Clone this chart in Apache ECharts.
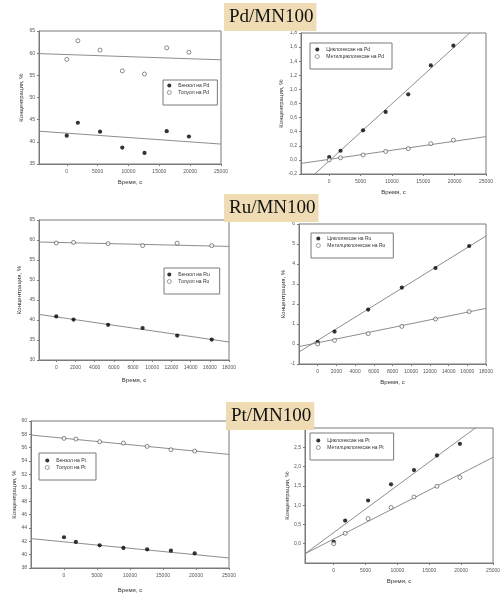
<!DOCTYPE html>
<html><head><meta charset="utf-8">
<script src="https://cdn.jsdelivr.net/npm/echarts@6/dist/echarts.min.js"></script>
<style>html,body{margin:0;padding:0;background:#fff}#c{width:503px;height:594px}</style>
</head><body><div id="c"></div>
<script>
// ---------- DATA ----------
const timesPd = [0, 1800, 5400, 9000, 12600, 16200, 19800];
const timesRu = [0, 1800, 5400, 9000, 12600, 16200];
const timesPt = [0, 1800, 5400, 9000, 12600, 16200, 19800];

const benzenePd = [41.4, 44.3, 42.3, 38.7, 37.5, 42.4, 41.2];
const toluenePd = [58.6, 62.8, 60.7, 56.0, 55.3, 61.2, 60.2];
const cyclohexanePd = [0.04, 0.13, 0.42, 0.68, 0.93, 1.34, 1.62];
const methylcyclohexanePd = [0.0, 0.03, 0.07, 0.12, 0.16, 0.23, 0.28];

const benzeneRu = [40.9, 40.1, 38.8, 38.0, 36.1, 35.1];
const tolueneRu = [59.25, 59.4, 59.1, 58.6, 59.2, 58.6];
const cyclohexaneRu = [0.1, 0.62, 1.72, 2.82, 3.8, 4.9];
const methylcyclohexaneRu = [0.0, 0.18, 0.52, 0.88, 1.25, 1.62];

const benzenePt = [42.6, 41.9, 41.4, 41.0, 40.8, 40.6, 40.2];
const toluenePt = [57.4, 57.3, 56.9, 56.7, 56.2, 55.7, 55.5];
const cyclohexanePt = [0.05, 0.6, 1.12, 1.54, 1.91, 2.29, 2.59];
const methylcyclohexanePt = [0.0, 0.27, 0.65, 0.94, 1.21, 1.49, 1.72];

// fitted lines (end points)
const fitBenzenePd = [[-4500, 42.4], [25000, 39.5]];
const fitToluenePd = [[-4500, 59.9], [25000, 58.5]];
const fitCyclohexanePd = [[-2300, -0.2], [22400, 1.8]];
const fitMethylcyclohexanePd = [[-4500, -0.05], [25000, 0.33]];
const fitBenzeneRu = [[-1800, 41.4], [18000, 34.5]];
const fitTolueneRu = [[-1800, 59.5], [18000, 58.4]];
const fitCyclohexaneRu = [[-2000, -0.4], [18000, 5.4]];
const fitMethylcyclohexaneRu = [[-2000, -0.13], [18000, 1.78]];
const fitBenzenePt = [[-5000, 42.4], [25000, 39.5]];
const fitToluenePt = [[-5000, 57.9], [25000, 55.0]];
const fitCyclohexanePt = [[-4500, -0.26], [25000, 3.34]];
const fitMethylcyclohexanePt = [[-4500, -0.26], [25000, 2.24]];

// tick labels
const xTicks25000 = [0, 5000, 10000, 15000, 20000, 25000];
const xTicks18000 = [0, 2000, 4000, 6000, 8000, 10000, 12000, 14000, 16000, 18000];
const yTicksPdLeft = [35, 40, 45, 50, 55, 60, 65];
const yTicksPdRight = [-0.2, 0, 0.2, 0.4, 0.6, 0.8, 1.0, 1.2, 1.4, 1.6, 1.8];
const yTicksRuLeft = [30, 35, 40, 45, 50, 55, 60, 65];
const yTicksRuRight = [-1, 0, 1, 2, 3, 4, 5, 6];
const yTicksPtLeft = [38, 40, 42, 44, 46, 48, 50, 52, 54, 56, 58, 60];
const yTicksPtRight = [0, 0.5, 1.0, 1.5, 2.0, 2.5];

const titles = ['Pd/MN100', 'Ru/MN100', 'Pt/MN100'];
const xName = 'Время, с';
const yName = 'Концентрация, %';

// ---------- BUILD ----------
const zip = (xs, ys) => xs.map((x, i) => [x, ys[i]]);
const comma = v => (Math.abs(v) < 1e-9 ? 0 : v).toFixed(1).replace('.', ',');
const plain = v => String(Math.round(v));

const panels = [
  {grid:{left:39, top:31, width:182, height:133}, xr:[-4500,25000], xt:xTicks25000, yr:[35,65], yt:yTicksPdLeft, yf:plain,
   ygap:15, xgap:15,
   s:[['Бензол на Pd', timesPd, benzenePd, true], ['Толуол на Pd', timesPd, toluenePd, false]],
   fits:[fitBenzenePd, fitToluenePd], leg:{left:163, top:80, padding:[3,8,10,4]}},
  {grid:{left:301, top:33, width:185, height:141}, xr:[-4500,25000], xt:xTicks25000, yr:[-0.2,1.8], yt:yTicksPdRight, yf:comma,
   ygap:13, xgap:15,
   s:[['Циклогексан на Pd', timesPd, cyclohexanePd, true], ['Метилциклогексан на Pd', timesPd, methylcyclohexanePd, false]],
   fits:[fitCyclohexanePd, fitMethylcyclohexanePd], leg:{left:310, top:43, padding:[4,8,10,5]}},
  {grid:{left:39, top:220, width:190, height:140}, xr:[-1800,18000], xt:xTicks18000, yr:[30,65], yt:yTicksRuLeft, yf:plain,
   ygap:17, xgap:17,
   s:[['Бензол на Ru', timesRu, benzeneRu, true], ['Толуол на Ru', timesRu, tolueneRu, false]],
   fits:[fitBenzeneRu, fitTolueneRu], leg:{left:164, top:268, padding:[4,10,10,3]}},
  {grid:{left:299, top:224, width:187, height:140}, xr:[-2000,18000], xt:xTicks18000, yr:[-1,6], yt:yTicksRuRight, yf:plain,
   ygap:13, xgap:15,
   s:[['Циклогексан на Ru', timesRu, cyclohexaneRu, true], ['Метилциклогексан на Ru', timesRu, methylcyclohexaneRu, false]],
   fits:[fitCyclohexaneRu, fitMethylcyclohexaneRu], leg:{left:311, top:233, padding:[3,8,10,5]}},
  {grid:{left:31, top:421, width:198, height:148}, xr:[-5000,25000], xt:xTicks25000, yr:[38,60], yt:yTicksPtLeft, yf:plain,
   ygap:14, xgap:19,
   s:[['Бензол на Pt', timesPt, benzenePt, true], ['Толуол на Pt', timesPt, toluenePt, false]],
   fits:[fitBenzenePt, fitToluenePt], leg:{left:39, top:453, padding:[5,10,10,6]}},
  {grid:{left:305, top:428, width:195, height:135}, xr:[-4500,25000], xt:xTicks25000, yr:[-0.5,3.0], yt:yTicksPtRight, yf:comma,
   ygap:10, xgap:15,
   s:[['Циклогексан на Pt', timesPt, cyclohexanePt, true], ['Метилциклогексан на Pt', timesPt, methylcyclohexanePt, false]],
   fits:[fitCyclohexanePt, fitMethylcyclohexanePt], leg:{left:310, top:433, padding:[5,10,10,6]}}
];

const AX = '#7a7a7a';
const FONT = 'Liberation Sans';
const option = {
  animation: false,
  backgroundColor: '#fff',
  title: [], grid: [], xAxis: [], yAxis: [], series: [], legend: []
};

panels.forEach((p, i) => {
  option.grid.push(Object.assign({show:true, borderColor:AX, borderWidth:1, backgroundColor:'transparent'}, p.grid));
  option.xAxis.push({
    type:'value', gridIndex:i, min:p.xr[0], max:p.xr[1],
    name:xName, nameLocation:'middle', nameGap:p.xgap,
    nameTextStyle:{fontSize:6, color:'#333', fontFamily:FONT},
    axisLine:{show:true, onZero:false, lineStyle:{color:AX, width:1}},
    axisTick:{show:true, length:2, customValues:p.xt, lineStyle:{color:AX}},
    axisLabel:{customValues:p.xt, fontSize:5, color:'#555', fontFamily:FONT, margin:5, formatter:plain},
    splitLine:{show:false}
  });
  option.yAxis.push({
    type:'value', gridIndex:i, min:p.yr[0], max:p.yr[1],
    name:yName, nameLocation:'middle', nameGap:p.ygap, nameRotate:90,
    nameTextStyle:{fontSize:6, color:'#333', fontFamily:FONT},
    axisLine:{show:true, onZero:false, lineStyle:{color:AX, width:1}},
    axisTick:{show:true, length:2, customValues:p.yt, lineStyle:{color:AX}},
    axisLabel:{customValues:p.yt, fontSize:5, color:'#555', fontFamily:FONT, margin:4, formatter:p.yf},
    splitLine:{show:false}
  });
  p.fits.forEach(f => {
    option.series.push({type:'line', xAxisIndex:i, yAxisIndex:i, data:f, showSymbol:false, symbol:'none',
      silent:true, clip:true, z:1, lineStyle:{color:'#808080', width:0.9}});
  });
  p.s.forEach(([name, xs, ys, filled]) => {
    option.series.push({type:'scatter', name, xAxisIndex:i, yAxisIndex:i, data:zip(xs, ys),
      symbol:'circle', symbolSize: filled ? 4.2 : 4, z:3,
      itemStyle: filled ? {color:'#000'} : {color:'#fff', borderColor:'#333', borderWidth:0.7}});
  });
  option.legend.push({
    data:p.s.map(s => s[0]), orient:'vertical',
    left:p.leg.left, top:p.leg.top, padding:p.leg.padding,
    itemWidth:8, itemHeight:4, itemGap:2, icon:'circle',
    itemStyle:{borderWidth:0.6},
    borderColor:AX, borderWidth:1, backgroundColor:'#fff',
    selectedMode:false,
    textStyle:{fontSize:5, color:'#333', fontFamily:FONT, padding:[0,0,0,0]}
  });
});

const titlePos = [{left:224, top:3}, {left:224, top:194}, {left:226, top:402}];
titles.forEach((t, i) => {
  option.title.push({
    text:t, left:titlePos[i].left, top:titlePos[i].top, z:10,
    backgroundColor:'#efdcb4', padding:[4,3,4,5],
    textStyle:{fontFamily:'Liberation Serif', fontWeight:'normal', fontSize:19, color:'#111', lineHeight:20}
  });
});

const chart = echarts.init(document.getElementById('c'), null, {renderer:'canvas'});
chart.setOption(option);
</script></body></html>
